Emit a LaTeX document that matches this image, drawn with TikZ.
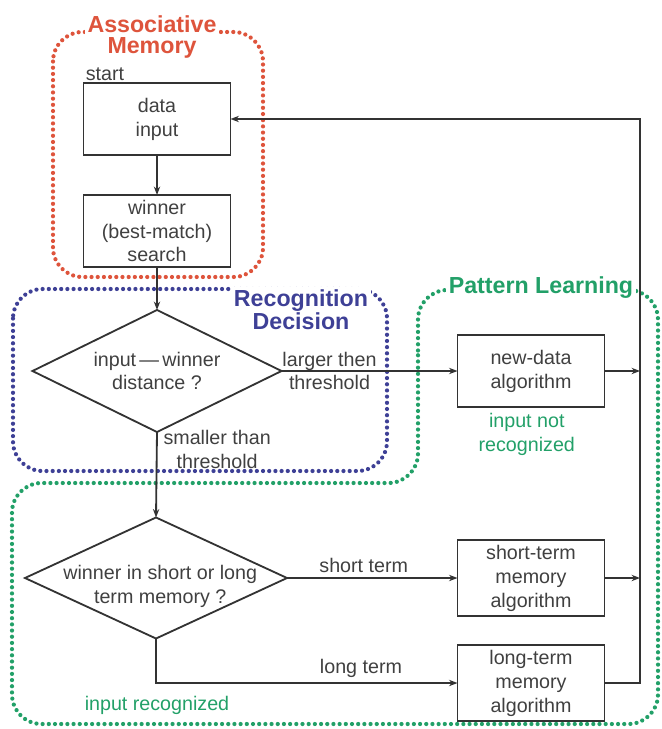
\documentclass[tikz,border=0pt]{standalone}
\usepackage{fontspec}
\setmainfont{Liberation Sans}
\usetikzlibrary{arrows.meta, shapes.geometric}

\definecolor{assocred}{RGB}{222,84,60}
\definecolor{recogblue}{RGB}{62,64,150}
\definecolor{learngreen}{RGB}{34,160,104}

\begin{document}
\begin{tikzpicture}[
    x=0.025cm, y=-0.025cm,
    >={Stealth[length=6pt, width=4.5pt]},
    line width=1.3pt,
    font=\fontsize{14}{17}\selectfont,
    block/.style={draw=black!80, rectangle, minimum width=3.675cm,
        minimum height=1.8cm, align=center, text=black!75, outer sep=0pt},
    decision/.style={draw=black!80, diamond, inner sep=0pt, outer sep=0pt},
    flow/.style={->, draw=black!80},
    note/.style={text=black!75, align=center, inner sep=0pt},
    region/.style={dash pattern=on 0pt off 4.4pt, line cap=round,
        line width=3pt, rounded corners=21pt},
    title/.style={font=\fontsize{16.5}{15}\selectfont\bfseries,
        align=center, fill=white, inner sep=2pt},
]
\useasboundingbox (0,0) rectangle (662,729);

%--- Dotted regions ---
\draw[region, assocred] (53,32) rectangle (263,277);
\draw[region, recogblue] (13,289) rectangle (387,471);
\draw[region, learngreen] (418,380) -- (418,290) -- (658,290) -- (658,724)
    -- (12,724) -- (12,483) -- (418,483) -- cycle;

%--- Region titles ---
\node[title, text=assocred] (assoc) at (152,37) {Associative\\Memory};
\node[title, text=recogblue] (recog) at (301,310) {Recognition\\Decision};
\node[title, text=learngreen] (learn) at (541,288) {Pattern Learning};

%--- Blocks ---
\node[block] (input) at (157,119) {data\\input};
\node[block] (search) at (157,231) {winner\\(best-match)\\search};
\node[block] (newdata) at (531,371) {new-data\\algorithm};
\node[block] (short) at (531,578) {short-term\\memory\\algorithm};
\node[block] (long) at (531,683) {long-term\\memory\\algorithm};

%--- Decisions (text set separately so the diamond keeps its size) ---
\node[decision, minimum width=6.225cm, minimum height=3.05cm] (dist) at (157,371) {};
\node[note] (distText) at (dist) {input\,—\,winner\\distance ?};
\node[decision, minimum width=6.55cm, minimum height=3.025cm] (mem) at (156,578) {};
\node[note, xshift=3pt, yshift=-6pt] (memText) at (mem) {winner in short or long\\term memory ?};

%--- Labels ---
\node[note, anchor=south west, inner sep=1pt] (start) at (input.north west) {start};
\node[note, anchor=west] (larger) at (dist.east) {larger then\\threshold};
\node[note, anchor=north west, xshift=4pt, yshift=2pt] (smaller) at (dist.south) {smaller than\\threshold};
\node[note, text=learngreen, anchor=north, xshift=-3pt, yshift=-4pt] (notrec) at (newdata.south) {input not\\recognized};
\node[note, text=learngreen] (rec) at (157,705) {input recognized};

%--- Return bus ---
\coordinate (bus) at (640,119);

%--- Connectors ---
\draw[flow] (input) -- (search);
\draw[flow] (search) -- (dist);
\draw[flow] (dist.east) -- (newdata.west);
\draw[flow] (dist.south) -- (mem.north);
\draw[flow] (mem.east) -- node[pos=.45, above=3pt, note] {short term} (short.west);
\draw[flow] (mem.south) |- node[pos=.84, above=3pt, note] {long term} (long.west);
\draw[flow] (newdata.east) -- (newdata.east -| bus);
\draw[flow] (short.east) -- (short.east -| bus);
\draw[flow] (long.east) -| (bus) -- (input.east);

\end{tikzpicture}
\end{document}
